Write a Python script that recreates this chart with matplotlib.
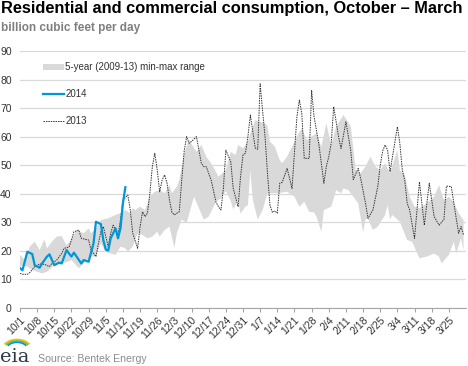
import numpy as np
import matplotlib.pyplot as plt
from matplotlib.patches import Arc

plt.rcParams['font.family'] = ['Liberation Sans', 'DejaVu Sans']

# days counted from Oct 1
week_labels = ['10/1', '10/8', '10/15', '10/22', '10/29', '11/5', '11/12', '11/19',
               '11/26', '12/3', '12/10', '12/17', '12/24', '12/31', '1/7', '1/14',
               '1/21', '1/28', '2/4', '2/11', '2/18', '2/25', '3/4', '3/11', '3/18', '3/25']

# 5-year (2009-13) min-max range
band_hi_days = [0, 2, 4, 6, 8, 10, 11, 13, 15, 17, 19, 21, 23, 26, 28, 29, 31, 33, 36, 39,
                41, 43, 45, 46, 47, 49, 51, 53, 55, 57, 59, 61, 62, 64, 65, 67, 69, 72, 74, 76,
                78, 81, 84, 86, 88, 89, 91, 93, 94, 96, 98, 100, 101, 102, 104, 106, 107, 109, 111, 113,
                115, 117, 121, 123, 125, 127, 129, 132, 135, 137, 139, 141, 143, 145, 147, 149, 151, 154, 155, 157,
                159, 161, 163, 166, 169, 171, 173, 175, 177, 179, 181]
band_hi = [18.6, 16.8, 21.5, 23.2, 20.3, 24.0, 20.9, 23.2, 25.0, 25.2, 22.0, 24.0, 27.3, 26.2, 27.9, 26.2, 27.9, 30.8, 31.4, 32.6,
           33.2, 34.3, 33.2, 35.0, 34.3, 35.5, 34.3, 39.0, 40.7, 41.3, 40.2, 43.0, 40.2, 42.5, 44.8, 54.2, 58.8, 54.7, 57.1, 53.0,
           50.7, 46.0, 48.3, 54.7, 53.6, 57.1, 55.9, 58.3, 61.2, 65.8, 65.2, 64.7, 63.5, 58.3, 56.5, 51.8, 50.7, 53.0, 56.5, 60.0,
           63.0, 58.8, 61.2, 56.5, 64.7, 57.0, 63.5, 67.6, 63.5, 48.3, 47.2, 49.5, 53.0, 49.5, 48.3, 50.7, 47.2, 55.3, 48.3, 46.6,
           39.0, 35.5, 34.9, 36.7, 39.0, 43.0, 37.8, 39.0, 37.2, 33.2, 30.8]
band_lo_days = [0, 1, 3, 5, 7, 9, 11, 14, 16, 19, 21, 24, 26, 29, 31, 33, 35, 37, 39, 41,
                43, 44, 46, 48, 50, 52, 54, 56, 57, 59, 61, 63, 64, 66, 68, 71, 73, 75, 77, 80,
                82, 84, 86, 87, 89, 90, 92, 93, 94, 95, 97, 99, 101, 103, 105, 109, 112, 114, 116, 118,
                120, 121, 123, 124, 127, 129, 131, 132, 134, 136, 138, 140, 141, 142, 144, 146, 149, 150, 151, 152,
                155, 158, 160, 163, 166, 169, 171, 172, 175, 177, 178, 180, 181]
band_lo = [14.5, 15.0, 14.5, 13.3, 12.7, 12.1, 12.7, 15.0, 15.6, 16.0, 16.8, 13.9, 15.6, 18.0, 18.0, 22.6, 19.7, 19.1, 18.6, 21.5,
           20.9, 19.7, 21.5, 26.2, 25.6, 24.4, 25.0, 26.7, 25.0, 27.3, 28.5, 21.0, 26.2, 31.0, 29.7, 39.0, 35.0, 31.0, 32.0, 37.2,
           38.4, 41.0, 37.5, 34.5, 37.8, 33.0, 35.5, 36.0, 48.0, 38.0, 31.0, 34.3, 40.2, 40.2, 40.2, 40.7, 39.0, 35.5, 37.2, 33.7,
           33.5, 32.0, 26.7, 34.3, 35.5, 41.3, 40.2, 41.9, 41.3, 39.0, 36.7, 26.5, 31.0, 31.4, 27.3, 28.5, 32.6, 36.0, 31.0, 32.6,
           30.2, 23.8, 23.2, 17.4, 18.0, 19.1, 18.0, 15.6, 18.6, 23.2, 19.1, 24.4, 20.3]

# 2013
days_2013 = [0, 1, 3, 4, 6, 8, 10, 12, 13, 15, 17, 18, 20, 21, 22, 24, 25, 28, 29, 31,
             32, 33, 34, 35, 36, 37, 38, 40, 41, 42, 44, 45, 46, 48, 49, 50, 51, 52, 53, 54,
             55, 56, 57, 58, 59, 60, 61, 62, 63, 64, 65, 66, 67, 68, 69, 70, 72, 74, 75, 76,
             78, 80, 81, 82, 83, 84, 86, 87, 89, 90, 91, 92, 93, 94, 96, 97, 98, 99, 100, 101,
             102, 103, 104, 105, 106, 107, 109, 111, 113, 114, 115, 116, 118, 119, 120, 122, 124, 125, 126, 127,
             128, 130, 131, 133, 135, 136, 138, 139, 141, 142, 144, 146, 147, 148, 149, 150, 151, 154, 155, 156,
             157, 158, 159, 161, 163, 165, 167, 169, 171, 173, 174, 176, 178, 179, 180, 181]
vals_2013 = [12.1, 11.8, 11.8, 12.4, 14.5, 15.4, 15.3, 14.5, 15.6, 16.8, 19.1, 20.9, 21.3, 23.8, 26.7, 27.3, 24.4, 23.8, 20.3, 18.0,
             22.6, 26.7, 28.5, 25.0, 21.5, 26.2, 29.0, 25.6, 30.8, 37.8, 39.6, 34.3, 26.2, 20.9, 28.5, 33.7, 32.0, 33.2, 40.2, 49.5,
             54.2, 48.3, 40.7, 44.8, 46.6, 43.7, 37.8, 33.5, 32.6, 33.2, 33.7, 44.8, 55.0, 60.0, 57.7, 58.3, 60.0, 50.7, 49.5, 49.5,
             44.8, 37.0, 35.5, 34.3, 41.9, 55.3, 51.2, 41.9, 35.5, 46.0, 53.6, 54.2, 60.0, 67.6, 56.0, 55.6, 78.5, 69.0, 60.0, 47.0,
             36.0, 33.5, 34.0, 33.2, 43.7, 44.0, 48.9, 41.9, 67.0, 72.8, 68.0, 52.4, 52.4, 76.2, 67.0, 57.1, 43.7, 49.5, 53.0, 57.7,
             70.5, 60.0, 55.9, 65.2, 55.0, 45.0, 48.9, 45.4, 36.7, 31.4, 34.3, 42.5, 50.0, 55.0, 57.1, 55.3, 47.7, 63.5, 57.7, 48.3,
             44.8, 36.7, 34.3, 24.4, 44.2, 29.0, 43.7, 32.0, 29.0, 31.0, 42.7, 42.5, 31.4, 26.2, 28.5, 25.6]

# 2014 (through mid-November)
days_2014 = [0, 1, 3, 5, 6, 8, 9, 11, 12, 14, 16, 17, 19, 20, 21, 22, 25, 26, 28, 30,
             31, 33, 34, 35, 36, 37, 39, 40, 41, 42, 43]
vals_2014 = [14.0, 13.2, 19.7, 18.9, 15.0, 14.1, 15.6, 18.0, 18.8, 15.0, 15.9, 15.6, 20.3, 19.1, 18.0, 19.4, 15.6, 16.8, 16.2, 22.6,
             30.2, 29.4, 23.8, 20.5, 20.1, 24.4, 27.9, 24.4, 27.9, 36.7, 42.3]

fig = plt.figure(figsize=(4.68, 3.66), dpi=100)
ax = fig.add_axes([20/468, 1-308/366, 446/468, 257/366])

# band as a polygon: top edge forward, bottom edge back
ax.fill(np.concatenate([band_hi_days, band_lo_days[::-1]]),
        np.concatenate([band_hi, band_lo[::-1]]),
        color='#d9d9d9', lw=0, label='5-year (2009-13) min-max range', zorder=2)
ax.plot(days_2014, vals_2014, color='#0096d7', lw=1.6, label='2014', zorder=4)
ax.plot(days_2013, vals_2013, color='#333333', lw=0.7, ls=(0, (1.5, 1)), label='2013', zorder=3)

ax.set_xlim(0, 182)
ax.set_ylim(0, 90)
ax.set_yticks(np.arange(0, 91, 10))
ax.grid(axis='y', color='#d9d9d9', lw=0.9, zorder=0)
ax.set_axisbelow(True)
ax.set_xticks(np.arange(0, 182, 7))
ax.set_xticklabels(week_labels, rotation=45, ha='right', rotation_mode='anchor', fontsize=7.5, color='#333333')
ax.tick_params(axis='x', length=3, color='#a6a6a6', pad=2)
ax.tick_params(axis='y', length=0, pad=6, labelsize=7.5, labelcolor='#333333')
for s in ['top', 'right', 'left']:
    ax.spines[s].set_visible(False)
ax.spines['bottom'].set_color('#a6a6a6')

leg = ax.legend(loc='upper left', bbox_to_anchor=(0.031, 0.99), frameon=False, fontsize=7,
                handlelength=2.2, handletextpad=0.15, labelspacing=1.75)
for t in leg.get_texts():
    t.set_color('#333333')

# titles
fig.text(0.003, 1-13.5/366, 'Residential and commercial consumption, October \u2013 March',
         fontsize=11.8, fontweight='bold', va='baseline', ha='left')
fig.text(0.003, 1-31.5/366, 'billion cubic feet per day', fontsize=8.5, fontweight='bold',
         color='#7f7f7f', va='baseline', ha='left')

# eia logo (rough) and source
fig.text(0.0, 1-362/366, 'eia', fontsize=14, family='DejaVu Serif', color='#2b3a4a', va='baseline', ha='left')
for r, c in [(15, '#f2c200'), (13, '#7ab648'), (11, '#0096d7')]:
    fig.add_artist(Arc((17/468, 1-350/366), r*2/468, r*1.4/366, theta1=30, theta2=150,
                       transform=fig.transFigure, color=c, lw=1.2))
fig.text(38/468, 1-362/366, 'Source: Bentek Energy', fontsize=7.6, color='#8c8c8c', va='baseline', ha='left')

fig.savefig('out.png', dpi=100)
